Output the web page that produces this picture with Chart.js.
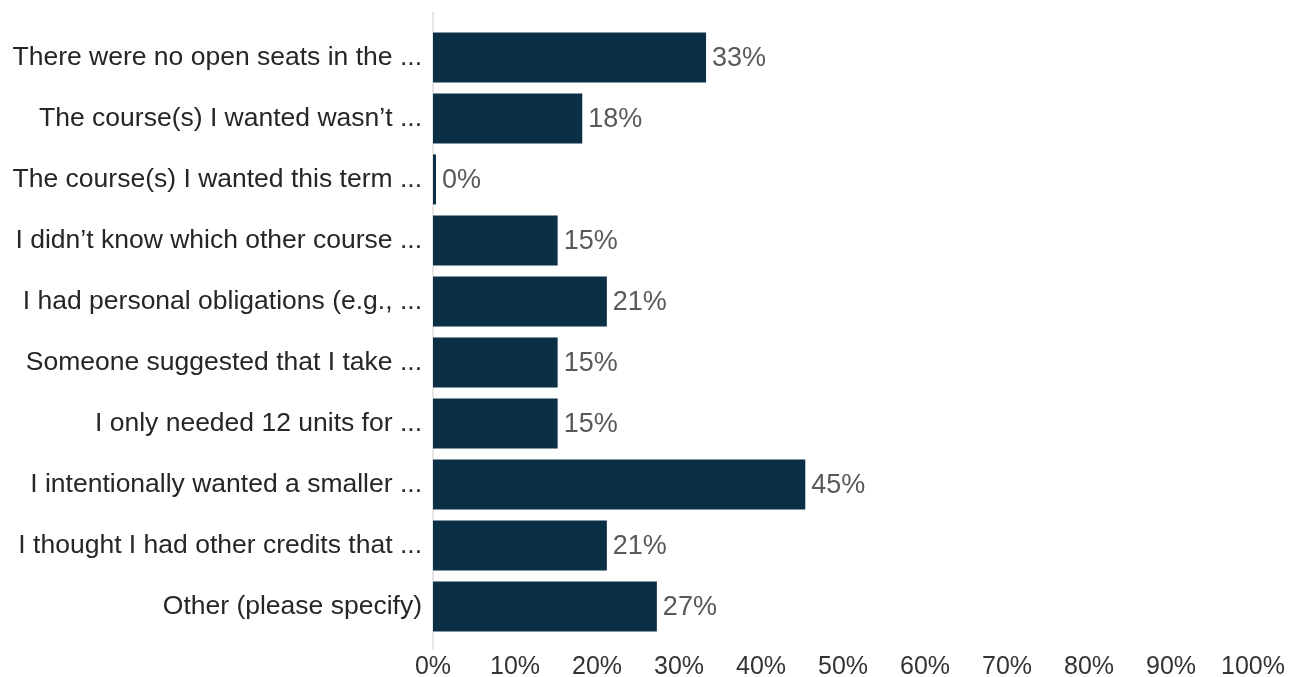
<!DOCTYPE html>
<html>
<head>
<meta charset="utf-8">
<script src="https://cdn.jsdelivr.net/npm/chart.js@4"></script>
<style>
  html, body { margin: 0; padding: 0; background: #fff; }
  #wrap { width: 1290px; height: 677px; }
</style>
</head>
<body>
<div id="wrap"><canvas id="chart"></canvas></div>
<script>
// Categories and values (percent of respondents)
const categories = [
  'There were no open seats in the ...',
  'The course(s) I wanted wasn\u2019t ...',
  'The course(s) I wanted this term ...',
  'I didn\u2019t know which other course ...',
  'I had personal obligations (e.g., ...',
  'Someone suggested that I take ...',
  'I only needed 12 units for ...',
  'I intentionally wanted a smaller ...',
  'I thought I had other credits that ...',
  'Other (please specify)'
];
const values = [33.3, 18.2, 0, 15.2, 21.2, 15.2, 15.2, 45.4, 21.2, 27.3];
const xTicks = [0, 10, 20, 30, 40, 50, 60, 70, 80, 90, 100];

const FONT = 'Arial, "Liberation Sans", sans-serif';
const BAR_COLOR = '#0b2f45';

// Light vertical baseline at 0%
const baseLine = {
  id: 'baseLine',
  beforeDatasetsDraw(chart) {
    const { ctx, chartArea } = chart;
    ctx.save();
    ctx.strokeStyle = '#e6e6e6';
    ctx.lineWidth = 2;
    ctx.beginPath();
    ctx.moveTo(chartArea.left, chartArea.top - 15);
    ctx.lineTo(chartArea.left, chartArea.bottom + 13);
    ctx.stroke();
    ctx.restore();
  }
};

// Value labels at the end of each bar
const valueLabels = {
  id: 'valueLabels',
  afterDatasetsDraw(chart) {
    const { ctx } = chart;
    const meta = chart.getDatasetMeta(0);
    ctx.save();
    ctx.font = '27px ' + FONT;
    ctx.fillStyle = '#595959';
    ctx.textAlign = 'left';
    ctx.textBaseline = 'middle';
    meta.data.forEach((bar, i) => {
      ctx.fillText(Math.round(values[i]) + '%', bar.x + 6, bar.y + 1);
    });
    ctx.restore();
  }
};

new Chart(document.getElementById('chart'), {
  type: 'bar',
  data: {
    labels: categories,
    datasets: [{
      data: values,
      backgroundColor: BAR_COLOR,
      borderWidth: 0,
      barPercentage: 0.82,
      categoryPercentage: 1,
      minBarLength: 3
    }]
  },
  options: {
    indexAxis: 'y',
    responsive: true,
    maintainAspectRatio: false,
    animation: false,
    layout: { padding: { top: 24, right: 37, left: 0, bottom: 0 } },
    plugins: {
      legend: { display: false },
      tooltip: { enabled: false }
    },
    scales: {
      x: {
        min: 0,
        max: 100,
        afterBuildTicks: axis => { axis.ticks = xTicks.map(v => ({ value: v })); },
        afterFit: axis => {
          axis.height = 40;
          axis.paddingLeft = 0;
          axis.paddingRight = 0;
        },
        grid: { display: false, drawTicks: false },
        border: { display: false },
        ticks: {
          padding: 15,
          maxRotation: 0,
          color: '#333333',
          font: { family: FONT, size: 25 },
          callback: v => v + '%'
        }
      },
      y: {
        afterFit: axis => { axis.width = 433; },
        grid: { display: false, drawTicks: false },
        border: { display: false },
        ticks: {
          padding: 11,
          color: '#262626',
          font: { family: FONT, size: 26.5 }
        }
      }
    }
  },
  plugins: [baseLine, valueLabels]
});
</script>
</body>
</html>
